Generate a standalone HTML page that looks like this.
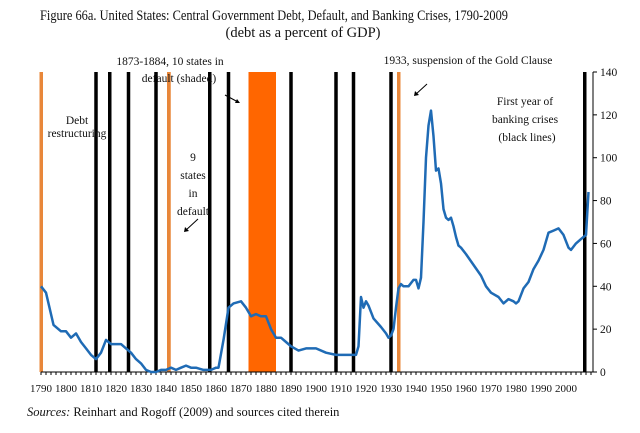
<!DOCTYPE html>
<html><head><meta charset="utf-8"><style>
body{margin:0;background:#fff;width:640px;height:428px;overflow:hidden}
svg text{font-family:"Liberation Serif",serif;fill:#111}
</style></head><body>
<svg id="chart" width="640" height="428" viewBox="0 0 640 428" xmlns="http://www.w3.org/2000/svg">
<text x="274" y="20" font-size="14.5" text-anchor="middle" textLength="468" lengthAdjust="spacingAndGlyphs">Figure 66a. United States:  Central Government Debt, Default, and Banking Crises, 1790-2009</text>
<text x="303" y="37" font-size="14.5" text-anchor="middle">(debt as a percent of GDP)</text>
<g id="bands"></g><g id="axes"></g>
<path id="line" fill="none" stroke="#1f6bb5" stroke-width="2.5" stroke-linejoin="round"/>
<g font-size="11">
<text x="170" y="65" text-anchor="middle" font-size="11.5">1873-1884, 10 states in</text>
<text x="179" y="82" text-anchor="middle" font-size="11.5">default (shaded)</text>
<text x="468" y="64" text-anchor="middle" font-size="11.5">1933, suspension of the Gold Clause</text>
<text x="77" y="124" text-anchor="middle" font-size="11.5">Debt</text>
<text x="77" y="137" text-anchor="middle" font-size="11.5">restructuring</text>
<text x="193" y="161" text-anchor="middle" font-size="11.5">9</text>
<text x="193" y="179" text-anchor="middle" font-size="11.5">states</text>
<text x="193" y="197" text-anchor="middle" font-size="11.5">in</text>
<text x="193" y="215" text-anchor="middle" font-size="11.5">default</text>
<text x="525" y="105" text-anchor="middle" font-size="11.5">First year of</text>
<text x="525" y="123" text-anchor="middle" font-size="11.5">banking crises</text>
<text x="527" y="141" text-anchor="middle" font-size="11.5">(black lines)</text>
<line x1="198" y1="219" x2="185" y2="231" stroke="#000"/><path d="M184,232 l1,-5 l4,4z"/>
<line x1="225" y1="95" x2="238" y2="102" stroke="#000"/><path d="M240,103 l-5,0 l2,-4z"/>
<line x1="427" y1="84" x2="415" y2="95" stroke="#000"/><path d="M414,96 l1,-5 l4,4z"/>
</g>
<text x="27" y="416" font-size="12.5"><tspan font-style="italic">Sources:</tspan> Reinhart and Rogoff (2009) and sources cited therein</text>
</svg>
<script>
const years=[1790,1792,1795,1798,1800,1802,1804,1806,1808,1810,1812,1814,1816,1818,1822,1824,1826,1828,1830,1832,1834,1836,1838,1840,1842,1844,1846,1848,1850,1852,1855,1858,1860,1861,1863,1865,1867,1870,1872,1874,1876,1878,1880,1882,1884,1886,1888,1890,1893,1896,1900,1904,1908,1912,1916,1917,1918,1919,1920,1921,1923,1926,1928,1929,1930,1931,1932,1933,1934,1935,1937,1939,1940,1941,1942,1943,1944,1945,1946,1947,1948,1949,1950,1951,1952,1953,1954,1955,1956,1957,1958,1960,1963,1966,1968,1970,1973,1975,1977,1979,1980,1981,1983,1985,1987,1989,1991,1993,1995,1997,1999,2001,2002,2004,2006,2007,2008,2009];
const debt=[40,37,22,19,19,16,18,14,11,8,6,9,15,13,13,11,9,6,4,1,0,0,1,1,2,1,2,3,2,2,1,1,2,2,15,30,32,33,30,26,27,26,26,20,16,16,14,12,10,11,11,9,8,8,8,12,35,30,33,31,25,21,18,16,17,20,30,39,41,40,40,43,43,39,44,70,100,115,122,110,94,95,88,76,72,71,72,68,63,59,58,55,50,45,40,37,35,32,34,33,32,33,39,42,48,52,57,65,66,67,64,58,57,60,62,63,64,84];
const crisisYears=[1812,1817.5,1825,1836,1857.5,1865,1890,1908,1915,1930,2007.5];
const defaultStarts=[1790,1841,1873,1933];
const defaultEnds=[1791,1842.5,1884,1934];
const yTicks=[0,20,40,60,80,100,120,140];
const xTicks=[1790,1800,1810,1820,1830,1840,1850,1860,1870,1880,1890,1900,1910,1920,1930,1940,1950,1960,1970,1980,1990,2000];
const NS='http://www.w3.org/2000/svg';
const X=y=>41+(y-1790)*2.5, Y=v=>372-v*300/140;
function mk(t,a,p){const e=document.createElementNS(NS,t);for(const k in a)e.setAttribute(k,a[k]);p.appendChild(e);return e;}
const bands=document.getElementById('bands'),axes=document.getElementById('axes');
defaultStarts.forEach((s,i)=>{const w=X(defaultEnds[i])-X(s);
 const r=mk('rect',{x:X(s)-(w<5?1.5:0),y:Y(140),width:Math.max(w,3.5),height:Y(0)-Y(140),fill:w>10?'#ff6600':'#e8873a'},bands);
 
 });
crisisYears.forEach(c=>{const l=mk('line',{x1:X(c),x2:X(c),y1:Y(140),y2:Y(0),stroke:'#000','stroke-width':3.5},bands);
 
 });
mk('line',{x1:X(1790),x2:593,y1:Y(0),y2:Y(0),stroke:'#000'},axes);
mk('line',{x1:593,x2:593,y1:Y(0),y2:Y(140),stroke:'#000'},axes);
for(let y=1790;y<=2010;y+=2)mk('line',{x1:X(y),x2:X(y),y1:Y(0),y2:Y(0)+3,stroke:'#000'},axes);
xTicks.forEach(t=>{const e=mk('text',{x:X(t),y:392,'font-size':11,'text-anchor':'middle'},axes);e.textContent=t;
 
 });
yTicks.forEach(t=>{mk('line',{x1:593,x2:597,y1:Y(t),y2:Y(t),stroke:'#000'},axes);
 const e=mk('text',{x:600,y:Y(t)+4,'font-size':11.5},axes);e.textContent=t;
 
 });
document.getElementById('line').setAttribute('d',years.map((y,i)=>(i?'L':'M')+X(y).toFixed(1)+','+Y(debt[i]).toFixed(1)).join(''));
</script>
</body></html>
